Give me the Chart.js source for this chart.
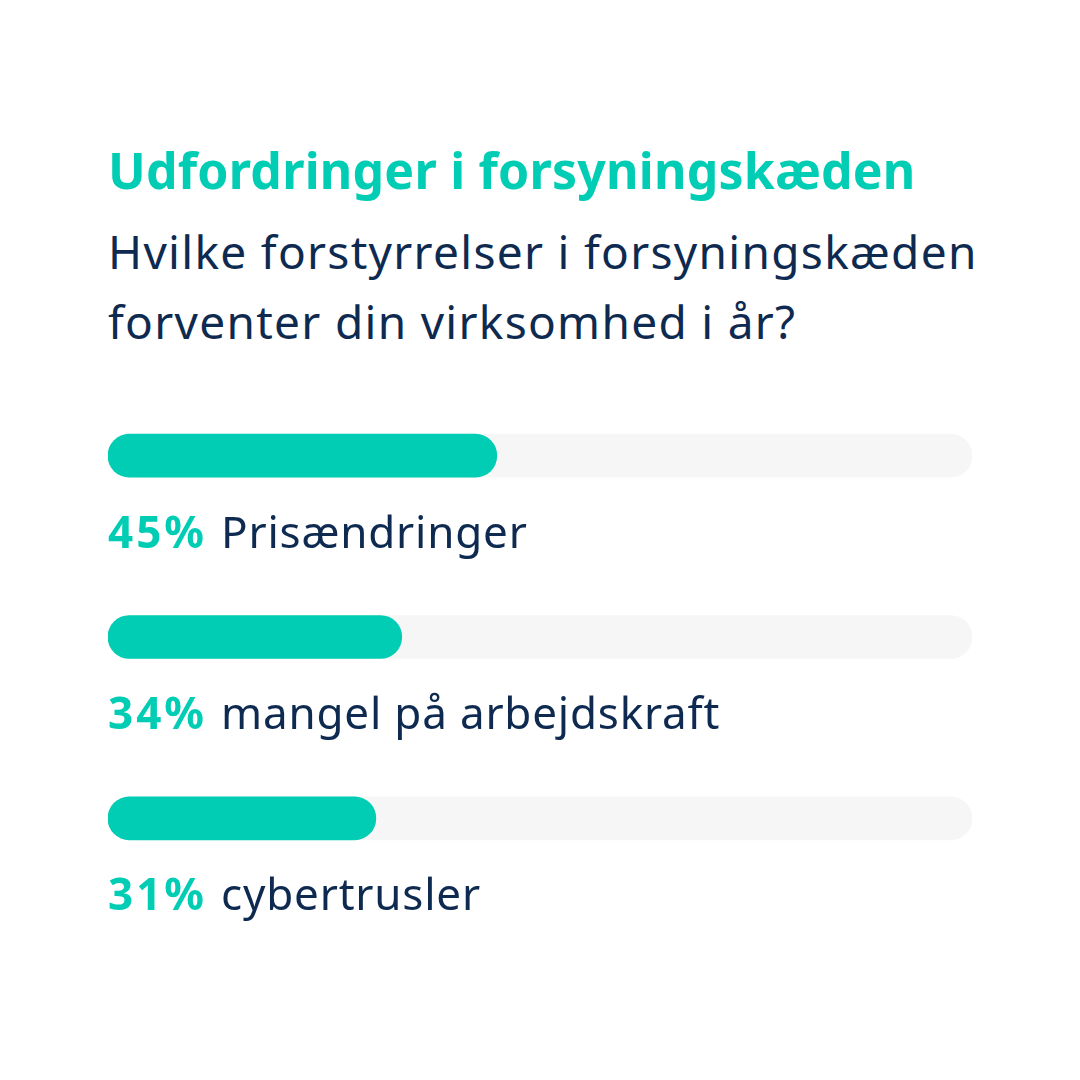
<!DOCTYPE html>
<html><head><meta charset="utf-8">
<script src="https://cdn.jsdelivr.net/npm/chart.js@4"></script>
<style>
html,body{margin:0;padding:0;background:#fff;width:1080px;height:1080px;overflow:hidden;font-family:"Noto Sans",sans-serif}
#t{position:absolute;left:108px;top:136px;font-size:50px;font-weight:700;color:#00CDB4;letter-spacing:0.2px}
#s{position:absolute;left:108px;top:216px;font-size:46px;line-height:70px;color:#0E2A50;letter-spacing:1.3px}
#c{position:absolute;left:0;top:0}
</style></head><body>
<div id="t">Udfordringer i forsyningskæden</div>
<div id="s">Hvilke forstyrrelser i forsyningskæden<br>forventer din virksomhed i år?</div>
<canvas id="c" width="1080" height="1080"></canvas>
<script>
const categories = ["Prisændringer", "mangel på arbejdskraft", "cybertrusler"];
const values = [45, 34, 31];
const track = [100, 100, 100];
const TEAL = "#00CDB4", NAVY = "#0E2A50";
const labelPlugin = {
  id: "labels",
  afterDatasetsDraw(chart) {
    const ctx = chart.ctx, y = chart.scales.y, x = chart.scales.x;
    ctx.save();
    ctx.textBaseline = "alphabetic";
    categories.forEach((c, i) => {
      const cy = y.getPixelForValue(i) + 92;
      const x0 = x.getPixelForValue(0);
      ctx.font = "700 44px 'Noto Sans'";
      ctx.letterSpacing = "3px";
      ctx.fillStyle = TEAL;
      const p = values[i] + "%";
      ctx.fillText(p, x0, cy);
      const w = ctx.measureText(p).width;
      ctx.font = "400 44px 'Noto Sans'";
      ctx.letterSpacing = "0.8px";
      ctx.fillStyle = NAVY;
      ctx.fillText(c, x0 + w + 14, cy);
    });
    ctx.restore();
  }
};
new Chart(document.getElementById("c"), {
  type: "bar",
  data: {
    labels: categories,
    datasets: [
      {data: values, backgroundColor: TEAL, borderRadius: 22, borderSkipped: false, barThickness: 43, grouped: false, order: 0},
      {data: track, backgroundColor: "#F6F6F6", borderRadius: 22, borderSkipped: false, barThickness: 43, grouped: false, order: 1}
    ]
  },
  options: {
    indexAxis: "y", responsive: false, animation: false, devicePixelRatio: 1,
    layout: {padding: {left: 108, right: 108, top: 365, bottom: 171}},
    plugins: {legend: {display: false}, tooltip: {enabled: false}},
    scales: {
      x: {display: false, min: 0, max: 100},
      y: {display: false}
    }
  },
  plugins: [labelPlugin]
});
</script>
</body></html>
